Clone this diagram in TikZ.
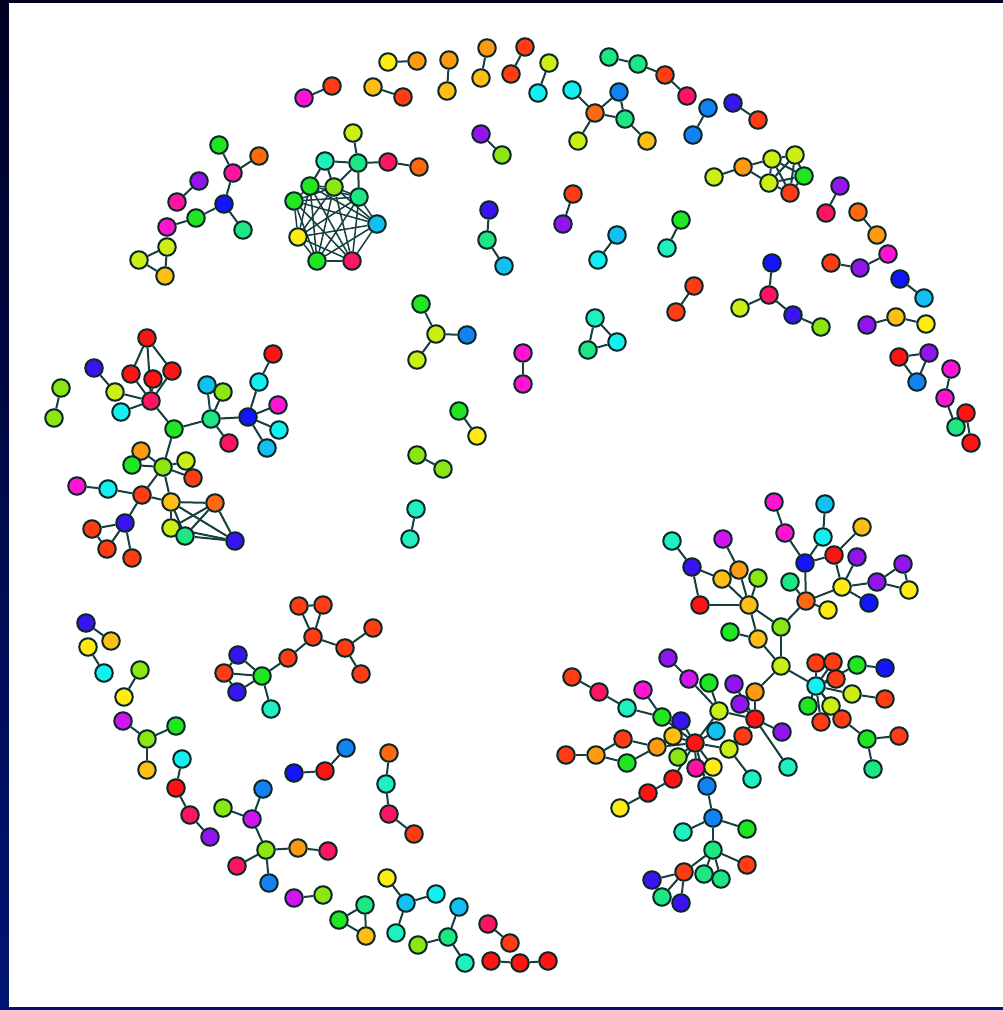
\documentclass[tikz,border=0pt]{standalone}
\usetikzlibrary{backgrounds}
\definecolor{nR}{HTML}{FF1414}
\definecolor{nRO}{HTML}{FF3C14}
\definecolor{nOR}{HTML}{FF6A10}
\definecolor{nO}{HTML}{FF9A10}
\definecolor{nOY}{HTML}{FFBE14}
\definecolor{nY}{HTML}{FFEA14}
\definecolor{nYG}{HTML}{CCEE14}
\definecolor{nLG}{HTML}{8CE614}
\definecolor{nG}{HTML}{22E622}
\definecolor{nSG}{HTML}{1EE682}
\definecolor{nAQ}{HTML}{20F0C0}
\definecolor{nCY}{HTML}{14F0F0}
\definecolor{nCB}{HTML}{14C0F0}
\definecolor{nAZ}{HTML}{1482F0}
\definecolor{nB}{HTML}{1414FF}
\definecolor{nBV}{HTML}{3A14F0}
\definecolor{nPU}{HTML}{9414F0}
\definecolor{nMG}{HTML}{D214F0}
\definecolor{nM}{HTML}{FF14D2}
\definecolor{nPK}{HTML}{FF14A0}
\definecolor{nPR}{HTML}{FF1464}
\definecolor{ndb}{HTML}{0A2828}
\definecolor{edc}{HTML}{164040}
\definecolor{frtop}{HTML}{000024}
\definecolor{frbot}{HTML}{001474}
\pgfdeclarelayer{bglayer}
\pgfdeclarelayer{edgelayer}
\pgfsetlayers{bglayer,edgelayer,main}
\begin{document}
\begin{tikzpicture}[x=1pt,y=-1pt,
  nd/.style={circle,draw=ndb,line width=2pt,minimum size=17.5pt,inner sep=0pt},
  ed/.style={draw=edc,line width=2pt}]
\useasboundingbox (0,0) rectangle (1003,1010);
\begin{pgfonlayer}{bglayer}
\shade[top color=frtop,bottom color=frbot] (0,0) rectangle (1003,1010);
\fill[white] (9,3) rectangle (1003,1007);
\end{pgfonlayer}
% nodes
\foreach \n/\x/\y/\c in {
a1/304/98/nM, a2/332/86/nRO,
b1/219/145/nG, b2/259/156/nOR, b3/233/173/nPK, b4/224/204/nB, b5/243/230/nSG, b6/196/218/nG, b7/167/227/nM,
c1/199/181/nPU, c2/177/202/nPK,
d1/167/247/nYG, d2/139/260/nYG, d3/165/276/nOY,
k1/353/133/nYG, k2/325/161/nAQ, k3/358/163/nSG, k4/388/162/nPR, k5/419/167/nOR,
k6/310/186/nG, k7/334/187/nLG, k8/359/197/nSG, k9/294/201/nG, k10/377/224/nCB,
k11/298/237/nY, k12/317/261/nG, k13/352/261/nPR,
e1/388/62/nY, e2/417/61/nO, e3/373/87/nOY, e4/403/97/nRO, e5/449/60/nO, e6/447/91/nOY,
e7/487/48/nO, e8/481/78/nOY, e9/525/47/nRO, e10/511/74/nRO, e11/549/63/nYG, e12/538/93/nCY,
f1/609/57/nSG, f2/638/64/nSG, f3/665/75/nRO, f4/687/96/nPR,
g1/572/90/nCY, g2/619/92/nAZ, g3/595/113/nOR, g4/625/119/nSG, g5/578/141/nYG, g6/647/141/nOY,
h1/481/134/nPU, h2/502/155/nLG, h3/489/210/nBV, h4/487/240/nSG, h5/504/266/nCB,
h6/573/194/nRO, h7/563/224/nPU, h8/617/235/nCB, h9/598/260/nCY, h10/681/220/nG, h11/667/248/nAQ,
i1/708/108/nAZ, i2/693/135/nAZ, i3/733/103/nBV, i4/758/120/nRO,
j1/714/177/nYG, j2/743/167/nO, j3/772/159/nYG, j4/795/155/nYG, j5/804/176/nG, j6/769/183/nYG, j7/790/193/nRO,
l1/840/186/nPU, l2/826/213/nPR, l3/858/212/nOR, l4/877/235/nO,
l5/831/263/nRO, l6/860/268/nPU, l7/888/254/nM, l8/900/279/nB, l9/924/298/nCB,
l10/867/325/nPU, l11/896/317/nOY, l12/926/324/nY,
m1/694/286/nRO, m2/676/312/nRO, m3/772/263/nB, m4/769/295/nPR, m5/740/308/nYG, m6/793/315/nBV, m7/821/327/nLG,
n1/899/357/nR, n2/929/353/nPU, n3/917/382/nAZ, n4/951/369/nM, n5/945/398/nM, n6/956/427/nSG, n7/966/413/nR, n8/971/443/nR,
o1/421/304/nG, o2/436/334/nYG, o3/467/335/nAZ, o4/417/360/nYG, o5/595/318/nAQ, o6/588/350/nSG, o7/617/342/nCY,
p1/523/353/nM, p2/523/384/nM, p3/459/411/nG, p4/477/436/nY, p5/417/455/nLG, p6/443/469/nLG, p7/416/509/nAQ, p8/410/539/nAQ,
q1/147/338/nR, q2/94/368/nBV, q3/131/374/nR, q4/153/379/nR, q5/172/371/nR, q6/273/354/nR, q7/61/388/nLG,
q8/115/392/nYG, q9/207/385/nCB, q10/223/392/nLG, q11/259/382/nCY, q12/151/401/nPR, q13/121/412/nCY,
q14/278/405/nM, q15/54/418/nLG, q16/211/419/nSG, q17/248/417/nB, q18/279/430/nCY, q19/174/429/nG,
q20/229/443/nPR, q21/267/448/nCB, q22/141/451/nO, q23/132/465/nG, q24/163/467/nLG, q25/186/461/nYG,
q26/193/478/nRO, q27/77/486/nM, q28/108/489/nCY, q29/142/495/nRO, q30/171/502/nOY, q31/215/503/nOR,
q32/125/523/nBV, q33/171/528/nYG, q34/185/536/nSG, q35/235/541/nBV, q36/92/529/nRO, q37/107/549/nRO, q38/132/558/nRO,
r1/86/623/nBV, r2/111/641/nOY, r3/88/647/nY, r4/104/673/nCY, r5/140/670/nLG, r6/124/697/nY,
r7/123/721/nMG, r8/147/739/nLG, r9/176/726/nG, r10/147/770/nOY,
r11/182/759/nCY, r12/176/788/nR, r13/190/815/nPR, r14/210/837/nPU,
s1/263/789/nAZ, s2/223/808/nLG, s3/252/819/nMG, s4/266/850/nLG, s5/298/848/nO, s6/328/851/nPR, s7/237/866/nPR, s8/269/883/nAZ,
s9/294/898/nMG, s10/323/895/nLG, s11/294/773/nB, s12/325/771/nR, s13/346/748/nAZ,
t1/299/606/nRO, t2/323/605/nRO, t3/313/637/nRO, t4/288/658/nRO, t5/238/655/nBV, t6/224/673/nRO,
t7/262/676/nG, t8/237/692/nBV, t9/271/709/nAQ, t10/345/648/nRO, t11/373/628/nRO, t12/361/674/nRO,
u1/389/753/nOR, u2/386/784/nAQ, u3/389/814/nPR, u4/414/834/nRO,
u5/387/878/nY, u6/406/903/nCB, u7/436/894/nCY, u8/396/933/nAQ,
u9/365/905/nSG, u10/339/920/nG, u11/366/936/nOY,
u12/459/907/nCB, u13/448/937/nSG, u14/418/945/nLG, u15/465/963/nAQ,
u16/488/924/nPR, u17/510/943/nRO, u18/491/961/nR, u19/520/963/nR, u20/548/961/nR,
v1/774/502/nM, v2/825/504/nCB, v3/862/527/nOY, v4/785/533/nM, v5/823/537/nCY, v6/723/539/nMG,
v7/834/555/nR, v8/857/557/nPU, v9/805/563/nB, v10/692/567/nBV, v11/903/564/nPU, v12/739/570/nO,
v13/758/578/nLG, v14/722/579/nOY, v15/790/582/nSG, v16/842/587/nY, v17/877/582/nPU, v18/909/590/nY,
v19/700/605/nR, v20/749/605/nOY, v21/806/601/nOR, v22/869/603/nB, v23/828/610/nY, v24/730/632/nG,
v25/781/627/nLG, v26/758/639/nOY, v27/672/541/nAQ, v28/781/666/nYG,
w1/668/658/nPU, w2/816/663/nRO, w3/833/662/nRO, w4/857/665/nG, w5/885/668/nB, w6/689/679/nMG,
w7/709/683/nG, w8/734/684/nPU, w9/755/692/nO, w10/816/686/nCY, w11/836/679/nRO, w12/852/694/nYG,
w13/885/699/nRO, w14/740/704/nPU, w15/719/711/nYG, w16/808/706/nG, w17/831/706/nYG, w18/755/719/nR,
w19/662/717/nG, w20/681/721/nBV, w21/821/722/nRO, w22/842/719/nRO, w23/716/731/nCB, w24/782/732/nPU,
w25/673/736/nOY, w26/695/743/nR, w27/743/736/nRO, w28/867/739/nG, w29/899/736/nRO, w30/678/757/nLG,
w31/729/749/nYG, w32/696/768/nPK, w33/713/767/nY, w34/788/767/nAQ, w35/673/779/nR, w36/752/779/nAQ,
w37/873/769/nSG, w38/707/786/nAZ, w39/572/677/nRO, w40/599/692/nPR, w41/643/690/nM, w42/627/708/nAQ,
w43/623/739/nRO, w44/657/747/nO, w45/596/755/nO, w46/566/755/nRO, w47/627/763/nG, w48/648/793/nR,
w49/620/808/nY, w50/713/818/nAZ, w51/683/832/nAQ, w52/747/829/nG, w53/713/850/nSG, w54/747/865/nRO,
w55/684/872/nRO, w56/704/874/nSG, w57/721/879/nSG, w58/652/880/nBV, w59/662/897/nSG, w60/681/903/nBV}
  \node[nd,fill=\c] (\n) at (\x,\y) {};
% edges
\begin{pgfonlayer}{edgelayer}
\foreach \a/\b in {
a1/a2, b1/b3, b2/b3, b3/b4, b4/b5, b4/b6, b6/b7, c1/c2, d1/d2, d2/d3, d1/d3,
k1/k3, k2/k3, k3/k4, k4/k5, k2/k6, k2/k7, k3/k7, k3/k8,
e1/e2, e3/e4, e5/e6, e7/e8, e9/e10, e11/e12, f1/f2, f2/f3, f3/f4,
g1/g3, g3/g2, g3/g4, g2/g4, g3/g5, g4/g6, h1/h2, h3/h4, h4/h5, h6/h7, h8/h9, h10/h11,
i1/i2, i3/i4, j1/j2, j2/j3, j2/j6, j3/j4, j3/j5, j3/j6, j3/j7, j4/j5, j4/j6, j4/j7, j5/j6, j5/j7, j6/j7,
l1/l2, l3/l4, l5/l6, l6/l7, l8/l9, l10/l11, l11/l12, m1/m2, m3/m4, m4/m5, m4/m6, m6/m7,
n1/n2, n2/n3, n1/n3, n4/n5, n5/n6, n6/n7, n7/n8,
o1/o2, o2/o3, o2/o4, o5/o6, o6/o7, o5/o7, p1/p2, p3/p4, p5/p6, p7/p8,
q7/q15, q1/q3, q1/q5, q1/q12, q3/q12, q4/q12, q5/q12, q2/q8, q8/q12, q13/q12, q12/q19,
q19/q16, q16/q9, q16/q10, q9/q10, q16/q20, q16/q17, q17/q11, q11/q6, q17/q14, q17/q18, q17/q21,
q19/q24, q24/q22, q24/q23, q24/q25, q24/q26, q24/q29, q24/q30, q27/q28, q28/q29, q29/q30, q29/q32,
q32/q36, q32/q37, q32/q38, q36/q37,
q30/q31, q30/q33, q30/q34, q30/q35, q31/q33, q31/q34, q31/q35, q33/q34, q33/q35, q34/q35,
r1/r2, r3/r4, r5/r6, r8/r7, r8/r9, r8/r10, r11/r12, r12/r13, r13/r14,
s1/s3, s2/s3, s3/s4, s4/s5, s5/s6, s4/s7, s4/s8, s9/s10, s11/s12, s12/s13,
t1/t2, t1/t3, t2/t3, t3/t4, t3/t10, t10/t11, t10/t12, t4/t7, t7/t9, t5/t6, t5/t7, t6/t7, t6/t8, t8/t7,
u1/u2, u2/u3, u3/u4, u6/u5, u6/u7, u6/u8, u9/u10, u10/u11, u9/u11, u13/u12, u13/u14, u13/u15,
u16/u17, u18/u19, u19/u20,
v1/v4, v4/v9, v2/v5, v5/v9, v3/v7, v7/v9, v7/v16, v8/v16, v9/v21, v16/v21, v16/v17, v16/v22,
v17/v11, v11/v18, v17/v18, v21/v23, v21/v25, v21/v15, v27/v10, v10/v14, v10/v19, v19/v20,
v6/v12, v12/v20, v14/v20, v13/v20, v20/v25, v20/v26, v24/v26, v25/v28, v26/v28,
v28/w9, v28/w10, w10/w2, w10/w3, w10/w4, w4/w5, w10/w11, w10/w12, w12/w13, w10/w16, w10/w17,
w10/w21, w10/w22, w22/w28, w28/w29, w28/w37,
w9/w18, w1/w6, w6/w15, w7/w15, w8/w18, w14/w18, w15/w18, w18/w27, w18/w24, w18/w34,
w15/w26, w23/w26, w19/w26, w20/w26, w25/w26, w30/w26, w32/w26, w33/w26, w38/w26, w31/w26, w35/w26, w44/w26,
w31/w36, w39/w40, w40/w42, w41/w19, w42/w19, w46/w45, w45/w43, w45/w47, w43/w44, w47/w44,
w49/w48, w48/w35, w38/w50, w50/w51, w50/w52, w50/w53, w53/w54, w53/w55, w53/w56, w53/w57,
w55/w58, w55/w59, w55/w60, w58/w59}
  \draw[ed] (\a) -- (\b);
\foreach \i in {6,...,12}{
  \pgfmathtruncatemacro\s{\i+1}
  \foreach \j in {\s,...,13}{\draw[ed,line width=1.5pt] (k\i) -- (k\j);}
}
\end{pgfonlayer}
\end{tikzpicture}
\end{document}
